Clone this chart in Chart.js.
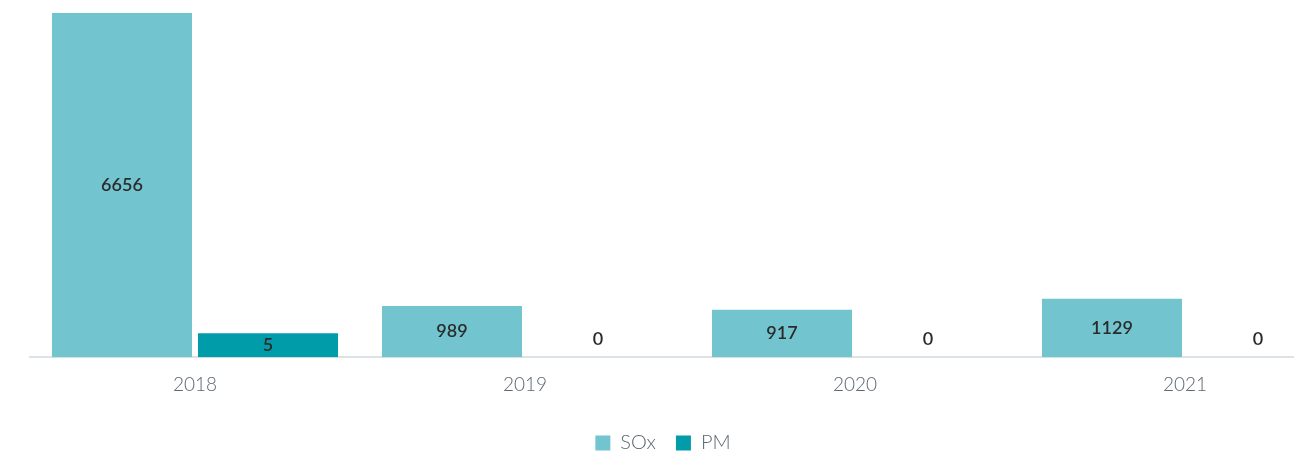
<!DOCTYPE html>
<html>
<head>
<meta charset="utf-8">
<title>SOx / PM</title>
<script src="https://cdn.jsdelivr.net/npm/chart.js@4/dist/chart.umd.min.js"></script>
<style>
  html, body { margin: 0; padding: 0; background: #fff; overflow: hidden; }
  #wrap { width: 1360px; height: 454px; }
</style>
</head>
<body>
<div id="wrap"><canvas id="graph"></canvas></div>
<script>
'use strict';

const years = ['2018', '2019', '2020', '2021'];
const soxValues = [6656, 989, 917, 1129];
const pmValues = [5, 0, 0, 0];

const soxColor = '#72c4cf';
const pmColor = '#009ca9';

// value labels sit in the middle of each bar, zeros just above the axis
const barValues = {
    id: 'barValues',
    afterDatasetsDraw(chart) {
        const ctx = chart.ctx;
        ctx.save();
        ctx.font = '600 18px Lato, "Open Sans", sans-serif';
        ctx.fillStyle = '#2b2b2b';
        ctx.textAlign = 'center';
        ctx.textBaseline = 'middle';
        chart.data.datasets.forEach(function (ds, di) {
            chart.getDatasetMeta(di).data.forEach(function (bar, i) {
                const v = ds.data[i];
                const p = bar.getProps(['x', 'y', 'base'], true);
                const y = v === 0 ? p.base - 18 : (p.y + p.base) / 2;
                ctx.fillText(String(v), p.x, y);
            });
        });
        ctx.restore();
    }
};

// keep the legend under the visible part of the plot
const legendNudge = {
    id: 'legendNudge',
    afterLayout(chart) {
        if (!chart.legend) return;
        chart.legend.left -= 27;
        chart.legend.right -= 27;
    }
};

function onReady(callback) {
    if (document.readyState != 'loading') callback();
    else document.addEventListener('DOMContentLoaded', callback);
}

onReady(function () {
    new Chart('graph', {
        type: 'bar',
        data: {
            labels: years,
            datasets: [{
                label: 'SOx',
                data: soxValues,
                backgroundColor: soxColor,
                barPercentage: 0.959,
                categoryPercentage: 0.885
            }, {
                label: 'PM',
                data: pmValues,
                backgroundColor: function (c) {
                    return c.raw === 0 ? 'rgba(0,0,0,0)' : pmColor;
                },
                minBarLength: 24,
                barPercentage: 0.959,
                categoryPercentage: 0.885
            }]
        },
        options: {
            responsive: true,
            maintainAspectRatio: false,
            animation: false,
            layout: { padding: { left: 30, right: 10, top: 13, bottom: -9 } },
            scales: {
                x: {
                    grid: { display: false },
                    border: { display: true, color: '#dde2e6', width: 2 },
                    ticks: {
                        padding: 8,
                        color: '#5b6670',
                        font: { family: 'Lato, "Open Sans", sans-serif', size: 19, weight: 300 }
                    },
                    // a little air between the year labels and the legend
                    afterFit: function (scale) { scale.height += 9; }
                },
                y: {
                    display: false,
                    beginAtZero: true,
                    max: Math.max.apply(null, soxValues)
                }
            },
            plugins: {
                tooltip: { enabled: false },
                legend: {
                    position: 'bottom',
                    labels: {
                        boxWidth: 15,
                        boxHeight: 15,
                        padding: 20,
                        color: '#5b6670',
                        font: { family: 'Lato, "Open Sans", sans-serif', size: 20, weight: 300 }
                    }
                }
            }
        },
        plugins: [barValues, legendNudge]
    });
});
</script>
</body>
</html>
